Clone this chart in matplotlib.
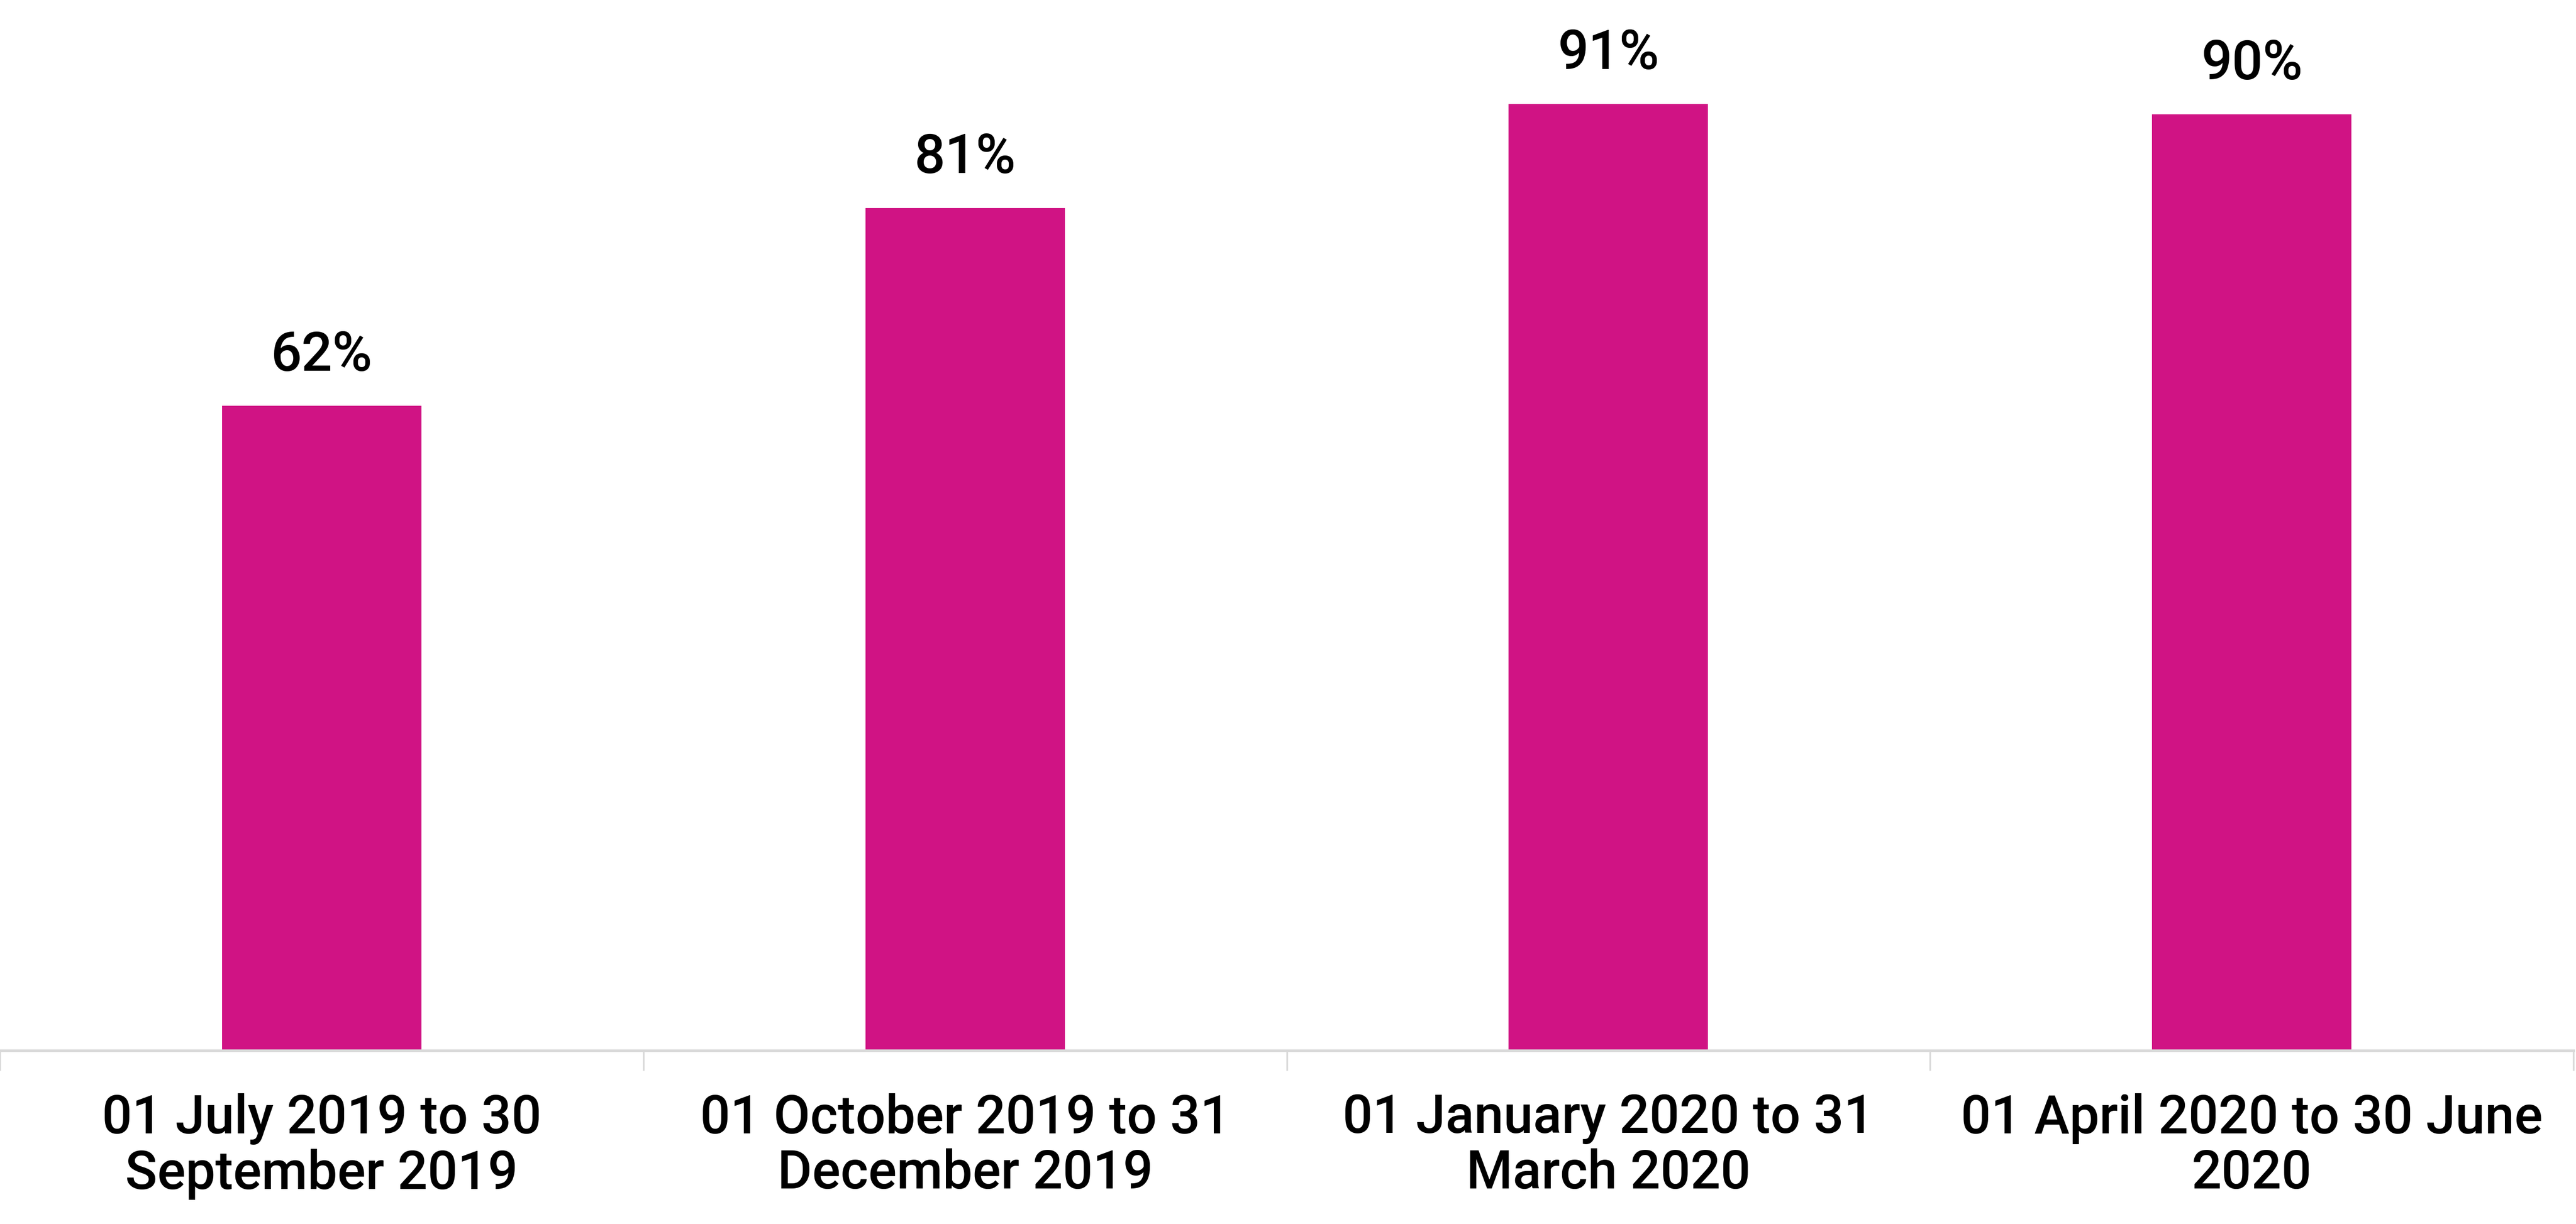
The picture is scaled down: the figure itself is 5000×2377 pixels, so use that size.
import matplotlib
matplotlib.use("Agg")
import matplotlib.pyplot as plt
import numpy as np

categories = [
    "01 July 2019 to 30\nSeptember 2019",
    "01 October 2019 to 31\nDecember 2019",
    "01 January 2020 to 31\nMarch 2020",
    "01 April 2020 to 30 June\n2020",
]
values = [62, 81, 91, 90]
value_labels = ["62%", "81%", "91%", "90%"]

BAR_COLOR = "#D01384"
AXIS_COLOR = "#D9D9D9"

plt.rcParams["font.family"] = ["Roboto", "DejaVu Sans"]
plt.rcParams["font.weight"] = "medium"

fig = plt.figure(figsize=(25, 11.885), dpi=200)
ax = fig.add_axes([0.0, 0.1418, 0.999, 0.8498])

x = np.arange(len(categories)) + 0.5
ax.bar(x, values, width=0.31, color=BAR_COLOR)

for xi, v, lab in zip(x, values, value_labels):
    ax.annotate(lab, (xi, v), xytext=(0, 24.5), textcoords="offset points",
                ha="center", va="baseline", fontsize=38, fontweight="medium",
                color="black")

ax.set_xlim(0, len(categories))
ax.set_ylim(0, 100)

# boundary ticks (no labels) and centered category labels
ax.set_xticks(np.arange(len(categories) + 1))
ax.set_xticklabels([])
ax.tick_params(axis="x", which="major", length=14, width=1.2, color=AXIS_COLOR)
ax.set_xticks(x, minor=True)
ax.set_xticklabels(categories, minor=True, fontsize=37, fontweight="medium",
                   linespacing=1.1)
ax.tick_params(axis="x", which="minor", length=0, pad=30)

ax.set_yticks([])
for side in ("top", "right", "left"):
    ax.spines[side].set_visible(False)
ax.spines["bottom"].set_color(AXIS_COLOR)
ax.spines["bottom"].set_linewidth(1.8)

fig.savefig("out.png", dpi=200, facecolor="white")
